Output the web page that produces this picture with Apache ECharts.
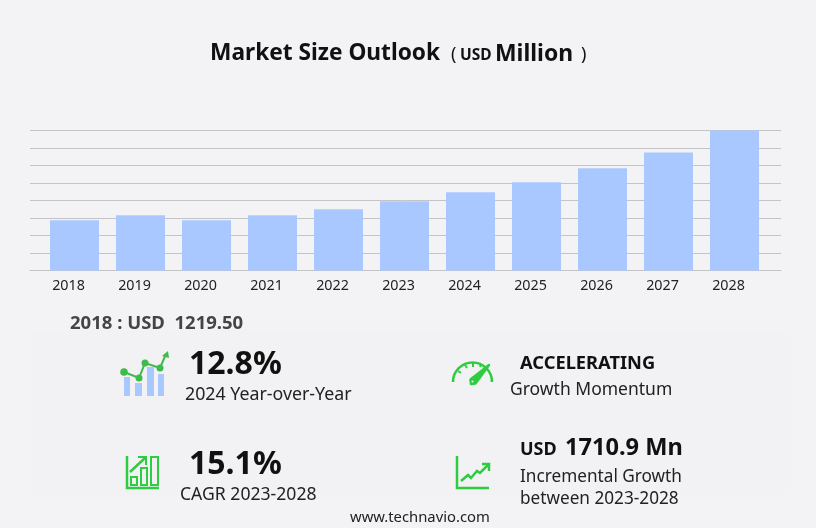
<!DOCTYPE html>
<html><head><meta charset="utf-8">
<style>html,body{margin:0;padding:0;background:#f3f3f6}#c{width:816px;height:528px}</style>
<script src="https://cdn.jsdelivr.net/npm/echarts@6/dist/echarts.min.js"></script></head>
<body><div id="c"></div>
<script>
const years = ['2018','2019','2020','2021','2022','2023','2024','2025','2026','2027','2028'];
const marketSize = [1219.5,1340,1220,1340,1485,1678,1893,2137,2475,2861,3389];
const axisMax = 3392, axisStep = 424;
const FONT = '"Noto Sans","Open Sans",sans-serif';
const GREEN = '#2ecc40', BLUE = '#a8c8ff';
const chart = echarts.init(document.getElementById('c'), null, {renderer:'canvas'});
function txt(x,y,text,size,weight,color,align){
  return {type:'text',x:x,y:y,z:10,style:{text:text,font:(weight||'normal')+' '+size+'px '+FONT,fill:color||'#111',textAlign:align||'left',textVerticalAlign:'middle'}};
}
function line(points,w,color){return {type:'polyline',z:10,shape:{points:points},style:{stroke:color||GREEN,lineWidth:w||2,fill:null}};}
function rect(x,y,w,h,color){return {type:'rect',z:10,shape:{x:x,y:y,width:w,height:h},style:{fill:color}};}
function box(x,y,w,h){return {type:'rect',z:10,shape:{x:x,y:y,width:w,height:h},style:{stroke:GREEN,lineWidth:2,fill:null}};}
function dot(x,y,r){return {type:'circle',z:11,shape:{cx:x,cy:y,r:r},style:{fill:'#3dbb4b'}};}
const graphics = [
  {type:'rect',z:0,shape:{x:31,y:330,width:760,height:165},style:{fill:'#f2f2f4'}},
  txt(210,54,'Market Size Outlook',22.7,'bold'),
  txt(451,55,'(',18,'normal'),
  txt(460,56,'USD',15.5,'bold'),
  txt(495,54,'Million',22.9,'bold'),
  txt(581,55,')',18,'normal'),
  txt(70,324,'2018 : USD  1219.50',18.5,'bold','#444'),
  txt(189,365,'12.8%',32,'bold'),
  txt(185,395,'2024 Year-over-Year',17.8,'normal','#222'),
  txt(189,465,'15.1%',32,'bold'),
  txt(180,495,'CAGR 2023-2028',17.6,'normal','#222'),
  txt(520,364,'ACCELERATING',18.3,'bold'),
  txt(510,390,'Growth Momentum',17.5,'normal','#222'),
  txt(520,450,'USD',18,'bold'),
  txt(565,448,'1710.9 Mn',23.6,'bold'),
  txt(520,477,'Incremental Growth',17.2,'normal','#222'),
  txt(520,499,'between 2023-2028',17.2,'normal','#222'),
  txt(350,518,'www.technavio.com',14.8,'normal','#222'),
  // icon: year over year
  rect(124,377,6,19,BLUE),rect(135,383,7,13,BLUE),rect(147,367,7,29,BLUE),rect(158,374,6,22,BLUE),
  line([[124,372],[139,378],[145,363],[160,368],[166,354]],2,'#3dbb4b'),
  dot(124,372,3.8),dot(139,378,3.5),dot(145,363,3.5),dot(160,368,3.5),
  {type:'polygon',z:11,shape:{points:[[162,356],[168,351],[169,358]]},style:{fill:'#3dbb4b'}},
  // icon: CAGR
  line([[127,456],[127,488],[159,488]],2.5),
  box(131,477,6,8),box(141,468,6,17),box(151,457,7,28),
  line([[130,472],[145,458]],2.5),line([[138,457],[146,457],[146,465]],2),
  // icon: gauge
  {type:'arc',z:10,shape:{cx:472.5,cy:382,r:19.5,startAngle:Math.PI,endAngle:2*Math.PI},style:{stroke:GREEN,lineWidth:2.5,fill:null}},
  {type:'polygon',z:10,shape:{points:[[470.5,379.5],[489,365],[475.5,383.5],[471,384]]},style:{stroke:GREEN,lineWidth:2.5,fill:GREEN,lineJoin:'round'}},
  {type:'circle',z:11,shape:{cx:472.5,cy:381.5,r:1},style:{fill:'#f2f2f4'}},
  line([[458,371],[461,373]],2),line([[465,365],[467,368]],2),line([[473,363],[473,367]],2),line([[481,364],[480,367]],2),
  // icon: growth line
  line([[457,456],[457,488],[489,488]],2.5),
  line([[461,481],[468,475],[471,478],[477,471],[480,473],[488,465]],2.5),
  line([[482,464],[489,464],[489,471]],2.5)
];
chart.setOption({
  backgroundColor:'#f3f3f6',
  animation:false,
  graphic:graphics,
  grid:[
    {left:30,width:751,top:130.5,height:140},
    {left:41.5,width:726,top:130.5,height:140}
  ],
  xAxis:[
    {gridIndex:0,type:'value',min:0,max:1,axisLabel:{show:false},axisTick:{show:false},splitLine:{show:false},
      axisLine:{show:true,lineStyle:{color:'#c4c4c8',width:1}}},
    {gridIndex:1,type:'category',data:years,axisTick:{show:false},axisLine:{show:false},
      axisLabel:{color:'#222',fontSize:14.3,fontFamily:FONT,margin:8,padding:[0,12,0,0],interval:0}}
  ],
  yAxis:[
    {gridIndex:0,type:'value',min:0,max:axisMax,interval:axisStep,axisLabel:{show:false},axisLine:{show:false},axisTick:{show:false},
      splitLine:{show:true,lineStyle:{color:'#c4c4c8',width:1}}},
    {gridIndex:1,type:'value',min:0,max:axisMax,interval:axisStep,show:false}
  ],
  series:[{type:'bar',xAxisIndex:1,yAxisIndex:1,data:marketSize,barWidth:49,itemStyle:{color:BLUE},z:5}]
});
</script></body></html>
